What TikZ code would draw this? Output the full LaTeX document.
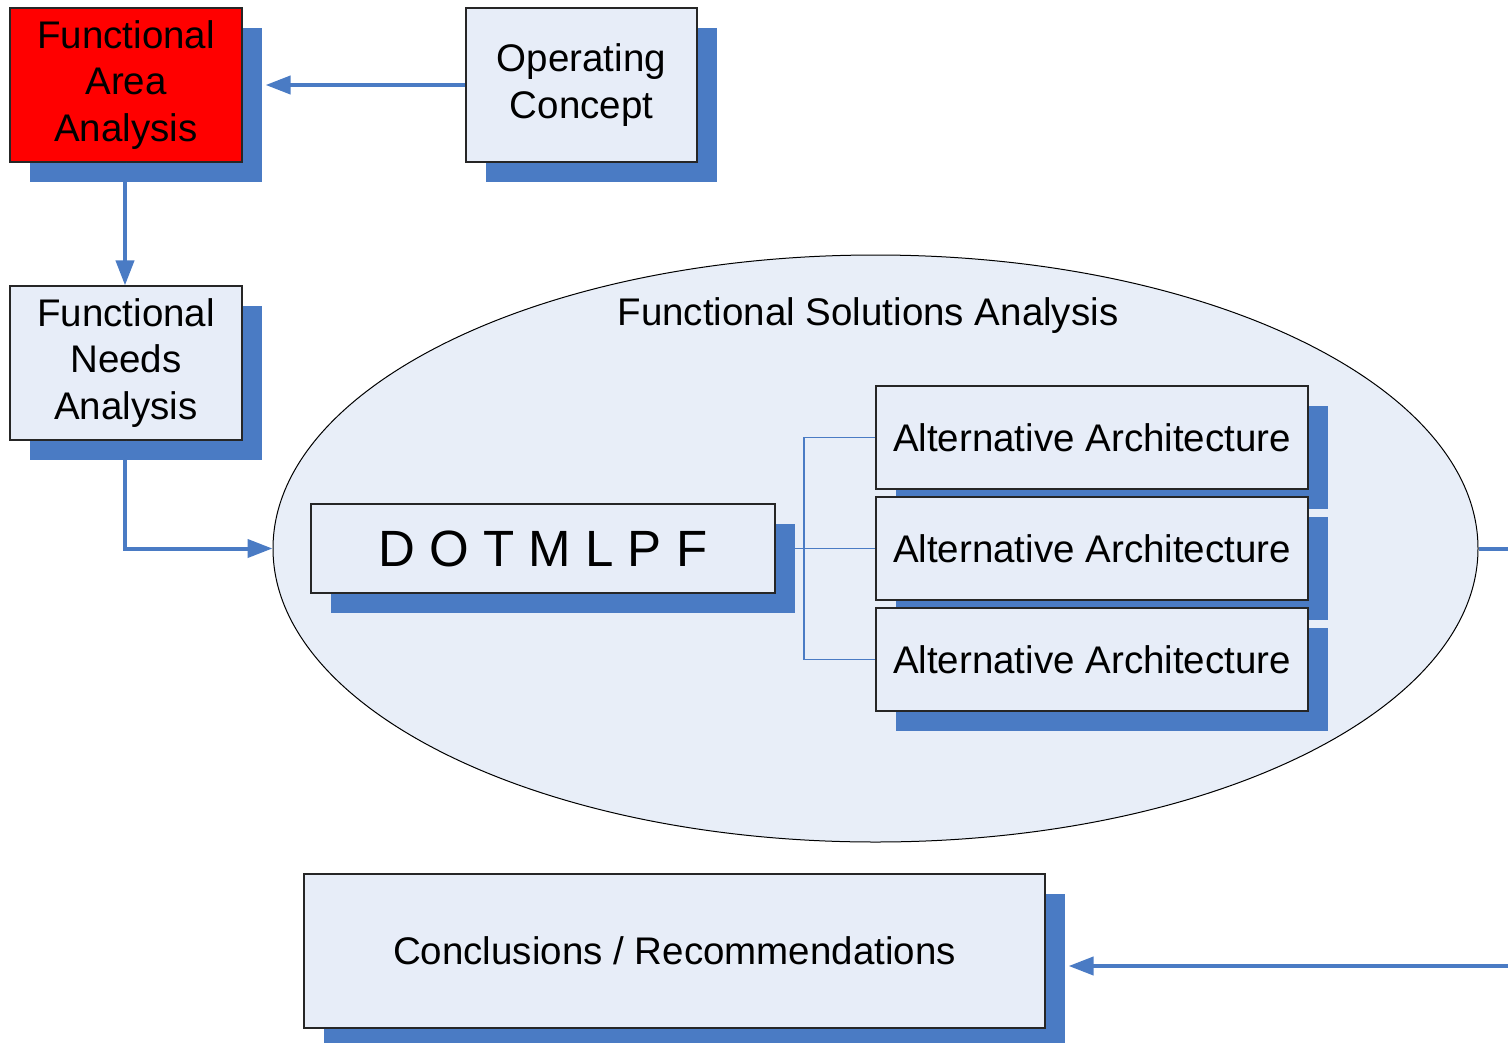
\documentclass[tikz,border=0pt]{standalone}
\usepackage{fontspec}
\setmainfont{Liberation Sans}
\usetikzlibrary{shadows,arrows.meta,shapes.geometric}
\definecolor{shadowblue}{RGB}{74,123,196}
\definecolor{boxfill}{RGB}{231,237,248}
\definecolor{ellfill}{RGB}{232,238,248}
\definecolor{linkblue}{RGB}{74,123,196}
\tikzset{
  panel/.style={draw=black!85, line width=1.2pt, fill=boxfill, align=center,
    inner sep=0pt, font=\fontsize{38.5}{46.5}\selectfont,
    drop shadow={shadow xshift=19.5pt, shadow yshift=-19.5pt, fill=shadowblue, opacity=1}},
  flow/.style={draw=linkblue, line width=4pt,
    -{Triangle[length=25pt,width=18pt]}},
  plain/.style={draw=linkblue, line width=4pt},
  tree/.style={draw=linkblue, line width=1.2pt},
}
\begin{document}
\begin{tikzpicture}[x=1pt,y=-1pt]
\useasboundingbox (0,0) rectangle (1508,1042);

% top row
\node[panel, fill=red, minimum width=232pt, minimum height=154pt] (faa) at (126,85)
  {Functional\\Area\\Analysis};
\node[panel, minimum width=231pt, minimum height=154pt] (oc) at (581.5,85)
  {Operating\\Concept};
\node[panel, minimum width=232pt, minimum height=154pt] (fna) at (126,363)
  {Functional\\Needs\\Analysis};

% solutions ellipse
\node[draw=black, line width=1pt, fill=ellfill, ellipse, minimum width=1205pt,
  minimum height=587pt, inner sep=0pt] (fsa) at (875.5,548.5) {};
\node[font=\fontsize{38.5}{46}\selectfont] (fsatitle) at (868,316) {Functional Solutions Analysis};

\node[panel, minimum width=464pt, minimum height=89pt, font=\fontsize{51}{60}\selectfont]
  (dotmlpf) at (543,548.5) {D O T M L P F};

\node[panel, minimum width=432pt, minimum height=103pt] (alta) at (1092,437.5) {Alternative Architecture};
\node[panel, minimum width=432pt, minimum height=103pt] (altb) at (1092,548.5) {Alternative Architecture};
\node[panel, minimum width=432pt, minimum height=103pt] (altc) at (1092,659.5) {Alternative Architecture};

\node[panel, minimum width=741pt, minimum height=154pt] (concl) at (674.5,951)
  {Conclusions / Recommendations};

% loose ends leaving the page on the right
\coordinate (outA) at (1508,548.5);
\coordinate (outB) at (1508,966);
\coordinate (bus) at (804,548.5);

% connectors
\draw[flow, shorten >=23pt] (oc.west) -- (faa.east |- oc.west);
\draw[flow] ([xshift=-1pt]faa.south) -- ([xshift=-1pt]fna.north);
\draw[flow] ([xshift=-1pt]fna.south) |- (fsa.west);
\draw[plain] (fsa.east) -- (outA);
\draw[flow, shorten >=23pt] (outB) -- (concl.east |- outB);

\draw[tree] (dotmlpf.east) -- (altb.west);
\draw[tree] (alta.west) -| (bus) |- (altc.west);
\end{tikzpicture}
\end{document}
